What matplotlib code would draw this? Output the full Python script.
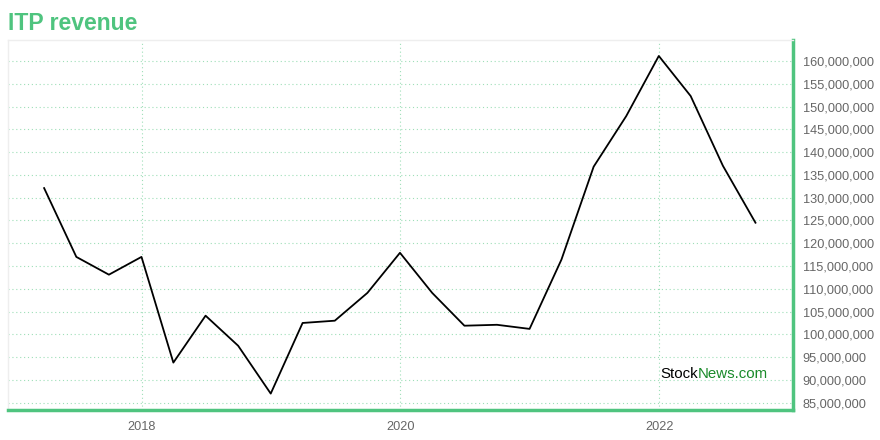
import numpy as np
import pandas as pd
import matplotlib.pyplot as plt
import matplotlib.dates as mdates
from matplotlib.ticker import FuncFormatter, MultipleLocator

# quarterly revenue (quarter end dates)
dates = pd.date_range("2017-03-31", "2022-09-30", freq="QE")
revenue = [132.1, 117.0, 113.1, 117.0, 93.8, 104.1, 97.5, 87.0,
           102.5, 103.0, 109.1, 117.9, 109.1, 101.9, 102.1, 101.2,
           116.4, 136.8, 147.9, 161.1, 152.3, 137.0, 124.5]
revenue = np.array(revenue) * 1e6
year_ticks = ["2018-01-01", "2020-01-01", "2022-01-01"]

green = "#4fc47f"
plt.rcParams['font.family'] = ['Liberation Sans', 'DejaVu Sans']

fig = plt.figure(figsize=(8.8, 4.4), dpi=100)
ax = fig.add_axes([8/880, 30/440, 785/880, 370/440])

ax.plot(dates, revenue, color="black", linewidth=1.3)

ax.set_xlim(pd.Timestamp("2016-12-19"), pd.Timestamp("2023-01-14"))
ax.set_ylim(83.4e6, 164.6e6)

ax.yaxis.tick_right()
ax.yaxis.set_major_locator(MultipleLocator(5e6))
ax.yaxis.set_major_formatter(FuncFormatter(lambda v, p: f"{int(round(v)):,}"))
ax.set_xticks(pd.to_datetime(year_ticks))
ax.xaxis.set_major_formatter(mdates.DateFormatter("%Y"))
ax.tick_params(axis="both", length=0, labelsize=9.2, colors="#666666")
ax.tick_params(axis="y", pad=7)
ax.tick_params(axis="x", pad=8)

ax.grid(True, color=green, alpha=0.55, linestyle=(0, (1, 2.5)), linewidth=0.8)

for s in ["top", "left"]:
    ax.spines[s].set_color("#eeeeee")
    ax.spines[s].set_linewidth(1)
for s in ["bottom", "right"]:
    ax.spines[s].set_color(green)
    ax.spines[s].set_linewidth(2.5)

fig.text(8/880, 1 - 23.5/440, "ITP revenue", color=green, fontsize=16.6,
         fontweight="bold", va="center", ha="left")

t1 = ax.text(0.831, 0.096, "Stock", transform=ax.transAxes, fontsize=10.8,
             color="black", ha="left", va="center")
ax.annotate("News.com", xy=(1, 0), xycoords=t1, fontsize=10.8,
            color="#1a8a2a", ha="left", va="bottom")

fig.savefig("out.png", dpi=100)
